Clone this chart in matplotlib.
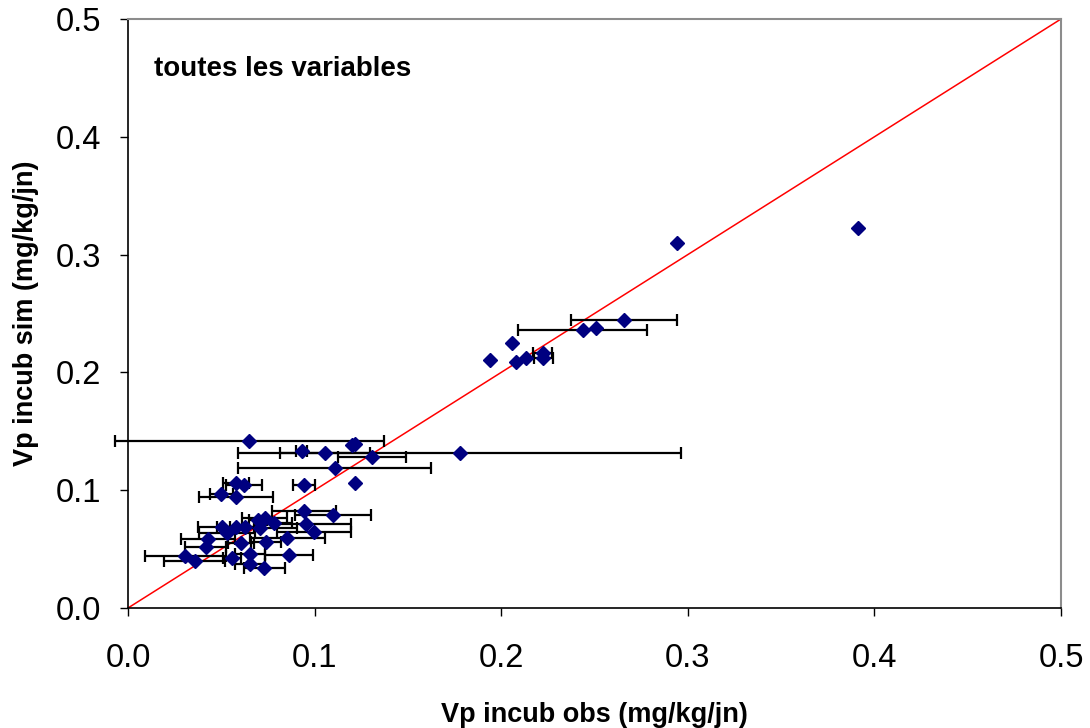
import numpy as np
import matplotlib
matplotlib.use("Agg")
import matplotlib.pyplot as plt

plt.rcParams['font.family'] = ['Liberation Sans', 'DejaVu Sans']

# observed (x), simulated (y), horizontal error (half-width)
obs = [0.391, 0.294, 0.266, 0.2506, 0.2437, 0.206, 0.194, 0.2079, 0.2133, 0.2222, 0.2226,
       0.065, 0.093, 0.1056, 0.1202, 0.1215, 0.1309, 0.1777, 0.1108,
       0.0579, 0.0622, 0.0943, 0.1217, 0.050, 0.0577,
       0.0943, 0.1097, 0.0956, 0.0997, 0.0505, 0.0529, 0.0577, 0.0629,
       0.0697, 0.0732, 0.0706, 0.0781, 0.0854, 0.074, 0.0607, 0.0429,
       0.0416, 0.0307, 0.0357, 0.0557, 0.0652, 0.0863, 0.0652, 0.0729]
sim = [0.323, 0.310, 0.2445, 0.238, 0.236, 0.2252, 0.2105, 0.2088, 0.212, 0.2162, 0.212,
       0.1415, 0.1333, 0.132, 0.1384, 0.1395, 0.1284, 0.132, 0.119,
       0.1064, 0.1044, 0.1044, 0.1064, 0.0965, 0.0945,
       0.0826, 0.0790, 0.0713, 0.0642, 0.069, 0.0634, 0.0685, 0.0685,
       0.0747, 0.0761, 0.0677, 0.0724, 0.0597, 0.0563, 0.0549, 0.0586,
       0.0515, 0.0441, 0.0402, 0.0422, 0.0456, 0.045, 0.0371, 0.0337]
obs_err = [0, 0, 0.0284, 0, 0.0347, 0, 0, 0, 0, 0.0052, 0.0052,
           0.072, 0.003, 0.0241, 0, 0, 0.0183, 0.1187, 0.0517,
           0.007, 0.0096, 0.006, 0, 0.0062, 0.0198,
           0.0171, 0.0204, 0.024, 0.0197, 0.0128, 0.015, 0.010, 0.008,
           0.005, 0.012, 0.020, 0.010, 0.020, 0.008, 0.007, 0.0146,
           0.011, 0.0218, 0.0165, 0.005, 0.008, 0.0129, 0.008, 0.011]

ticks = [0.0, 0.1, 0.2, 0.3, 0.4, 0.5]
tick_labels = ['0.0', '0.1', '0.2', '0.3', '0.4', '0.5']

obs = np.array(obs); sim = np.array(sim); obs_err = np.array(obs_err)

fig = plt.figure(figsize=(10.9, 7.28), dpi=100)
ax = fig.add_axes([128/1090, 120/728, 933/1090, 589/728])

# 1:1 line
ax.plot([0, 0.5], [0, 0.5], color='#ff0000', lw=1.1, zorder=2)

m = obs_err > 0
ax.errorbar(obs[m], sim[m], xerr=obs_err[m], fmt='none', ecolor='black',
            elinewidth=1.6, capsize=4.6, capthick=1.6, zorder=3, clip_on=False)
ax.plot(obs, sim, linestyle='none', marker='D', ms=7.5, color='#000080',
        markeredgecolor='#000080', zorder=4)

ax.set_xlim(0, 0.5)
ax.set_ylim(0, 0.5)
ax.set_xticks(ticks)
ax.set_xticklabels(tick_labels)
ax.set_yticks(ticks)
ax.set_yticklabels(tick_labels)
ax.tick_params(axis='both', direction='out', length=6, width=1, labelsize=23.5, color='black')
ax.tick_params(axis='x', pad=19)
ax.tick_params(axis='y', pad=13)

for s in ['left', 'bottom']:
    ax.spines[s].set_color('black')
    ax.spines[s].set_linewidth(1.2)
for s in ['top', 'right']:
    ax.spines[s].set_color('#8c8c8c')
    ax.spines[s].set_linewidth(1.5)

ax.set_xlabel('Vp incub obs (mg/kg/jn)', fontsize=19.5, fontweight='bold', labelpad=20)
ax.set_ylabel('Vp incub sim (mg/kg/jn)', fontsize=19.5, fontweight='bold', labelpad=12)

ax.text(0.028, 0.915, 'toutes les variables', transform=ax.transAxes, fontsize=20,
        fontweight='bold', va='center', ha='left')

fig.savefig('out.png', dpi=100)
